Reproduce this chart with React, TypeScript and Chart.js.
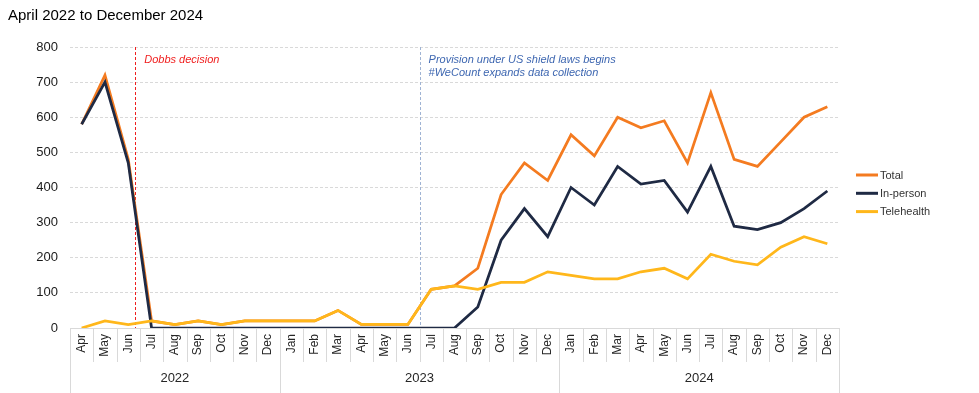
import { useEffect, useRef } from 'react';
import { Chart, registerables } from 'chart.js';

Chart.register(...registerables);

const TITLE = 'April 2022 to December 2024';

const months = [
  'Apr', 'May', 'Jun', 'Jul', 'Aug', 'Sep', 'Oct', 'Nov', 'Dec',
  'Jan', 'Feb', 'Mar', 'Apr', 'May', 'Jun', 'Jul', 'Aug', 'Sep', 'Oct', 'Nov', 'Dec',
  'Jan', 'Feb', 'Mar', 'Apr', 'May', 'Jun', 'Jul', 'Aug', 'Sep', 'Oct', 'Nov', 'Dec',
];
const years = ['2022', '2023', '2024'];
const monthsInYear = [9, 12, 12];

const seriesNames = ['Total', 'In-person', 'Telehealth'];

const total = [
  580, 720, 480, 20, 10, 20, 10, 20, 20,
  20, 20, 50, 10, 10, 10, 110, 120, 170, 380, 470, 420,
  550, 490, 600, 570, 590, 470, 670, 480, 460, 530, 600, 630,
];
const inPerson = [
  580, 700, 470, 0, 0, 0, 0, 0, 0,
  0, 0, 0, 0, 0, 0, 0, 0, 60, 250, 340, 260,
  400, 350, 460, 410, 420, 330, 460, 290, 280, 300, 340, 390,
];
const telehealth = [
  0, 20, 10, 20, 10, 20, 10, 20, 20,
  20, 20, 50, 10, 10, 10, 110, 120, 110, 130, 130, 160,
  150, 140, 140, 160, 170, 140, 210, 190, 180, 230, 260, 240,
];

const yMin = 0;
const yMax = 800;
const yStep = 100;

// events: month index in the axis and fraction of that month elapsed
const eventLabels = [
  ['Dobbs decision'],
  ['Provision under US shield laws begins', '#WeCount expands data collection'],
];
const eventMonthIndex = [2, 15];
const eventMonthFraction = [0.8, 0];

const seriesColors = ['#F47B20', '#1F2A44', '#FFB71B'];
const eventColors = ['#F01E1E', '#9FB3D3'];
const eventTextColors = ['#F01E1E', '#3E67B1'];
const FONT = '"Liberation Sans", Arial, sans-serif';

const overlayPlugin = {
  id: 'overlay',
  beforeDatasetsDraw(chart: any) {
    const { ctx, chartArea, scales } = chart;
    const x = scales.x;
    eventMonthIndex.forEach((m, i) => {
      const px = Math.round(x.getPixelForValue(m - 0.5 + eventMonthFraction[i])) + 0.5;
      ctx.save();
      ctx.strokeStyle = eventColors[i];
      ctx.lineWidth = 1;
      ctx.setLineDash([3, 2]);
      ctx.beginPath();
      ctx.moveTo(px, chartArea.top);
      ctx.lineTo(px, chartArea.bottom);
      ctx.stroke();
      ctx.restore();
    });
  },
  afterDraw(chart: any) {
    const { ctx, chartArea, scales } = chart;
    const x = scales.x;
    const H = chart.height;
    ctx.save();
    // title
    ctx.fillStyle = '#000000';
    ctx.font = `15px ${FONT}`;
    ctx.textBaseline = 'middle';
    ctx.textAlign = 'left';
    ctx.fillText(TITLE, 8, 15.5);

    // event labels
    ctx.font = `italic 11px ${FONT}`;
    eventLabels.forEach((lines, i) => {
      const px = x.getPixelForValue(eventMonthIndex[i] - 0.5 + eventMonthFraction[i]);
      ctx.fillStyle = eventTextColors[i];
      lines.forEach((t, j) => {
        ctx.fillText(t, px + 9, chartArea.top + 13 + j * 13);
      });
    });

    // month separators
    ctx.strokeStyle = '#D9D9D9';
    ctx.lineWidth = 1;
    ctx.setLineDash([]);
    for (let i = 0; i <= months.length; i++) {
      const px = Math.round(x.getPixelForValue(i - 0.5)) + 0.5;
      ctx.beginPath();
      ctx.moveTo(px, chartArea.bottom);
      ctx.lineTo(px, chartArea.bottom + 34);
      ctx.stroke();
    }
    // year groups
    let start = 0;
    ctx.font = `13px ${FONT}`;
    ctx.fillStyle = '#262626';
    ctx.textAlign = 'center';
    years.forEach((yr, k) => {
      const l = x.getPixelForValue(start - 0.5);
      const r = x.getPixelForValue(start + monthsInYear[k] - 0.5);
      ctx.fillText(yr, (l + r) / 2, 378);
      [l, r].forEach((p) => {
        const px = Math.round(p) + 0.5;
        ctx.beginPath();
        ctx.moveTo(px, chartArea.bottom);
        ctx.lineTo(px, H);
        ctx.stroke();
      });
      start += monthsInYear[k];
    });

    // legend
    ctx.font = `11px ${FONT}`;
    ctx.textAlign = 'left';
    chart.data.datasets.forEach((ds: any, k: number) => {
      const y = 175 + k * 18.3;
      ctx.strokeStyle = ds.borderColor;
      ctx.lineWidth = 3;
      ctx.beginPath();
      ctx.moveTo(856, y);
      ctx.lineTo(878, y);
      ctx.stroke();
      ctx.fillStyle = '#333333';
      ctx.fillText(ds.label, 880, y + 0.5);
    });
    ctx.restore();
  },
};

export default function App() {
  const ref = useRef<HTMLCanvasElement | null>(null);

  useEffect(() => {
    if (!ref.current) return;
    const seriesData = [total, inPerson, telehealth];
    const chart = new Chart(ref.current, {
      type: 'line',
      data: {
        labels: months,
        datasets: seriesNames.map((name, i) => ({
          label: name,
          data: seriesData[i],
          borderColor: seriesColors[i],
          backgroundColor: seriesColors[i],
          borderWidth: 2.75,
          pointRadius: 0,
          tension: 0,
          fill: false,
          order: 3 - i,
        })),
      },
      options: {
        responsive: false,
        animation: false,
        devicePixelRatio: 1,
        layout: { padding: { left: 0, right: 140, top: 47, bottom: 0 } },
        plugins: {
          legend: { display: false },
          title: { display: false },
          tooltip: { enabled: false },
        },
        scales: {
          x: {
            type: 'category',
            offset: true,
            grid: { display: false, drawTicks: false },
            border: { display: true, color: '#D9D9D9', width: 1 },
            ticks: {
              autoSkip: false,
              minRotation: 90,
              maxRotation: 90,
              padding: 6,
              color: '#262626',
              font: { family: FONT, size: 12 },
            },
            afterFit: (scale: any) => {
              scale.height = 65;
            },
          },
          y: {
            min: yMin,
            max: yMax,
            grid: { color: '#D9D9D9', drawTicks: false, lineWidth: 1 },
            border: { display: false, dash: [3, 2] },
            ticks: {
              stepSize: yStep,
              padding: 12,
              color: '#1A1A1A',
              font: { family: FONT, size: 13 },
            },
            afterFit: (scale: any) => {
              scale.width = 70;
            },
          },
        },
      },
      plugins: [overlayPlugin],
    });
    return () => chart.destroy();
  }, []);

  return (
    <div style={{ position: 'fixed', left: 0, top: 0, width: 979, height: 393, background: '#fff' }}>
      <canvas ref={ref} width={979} height={393} />
    </div>
  );
}
